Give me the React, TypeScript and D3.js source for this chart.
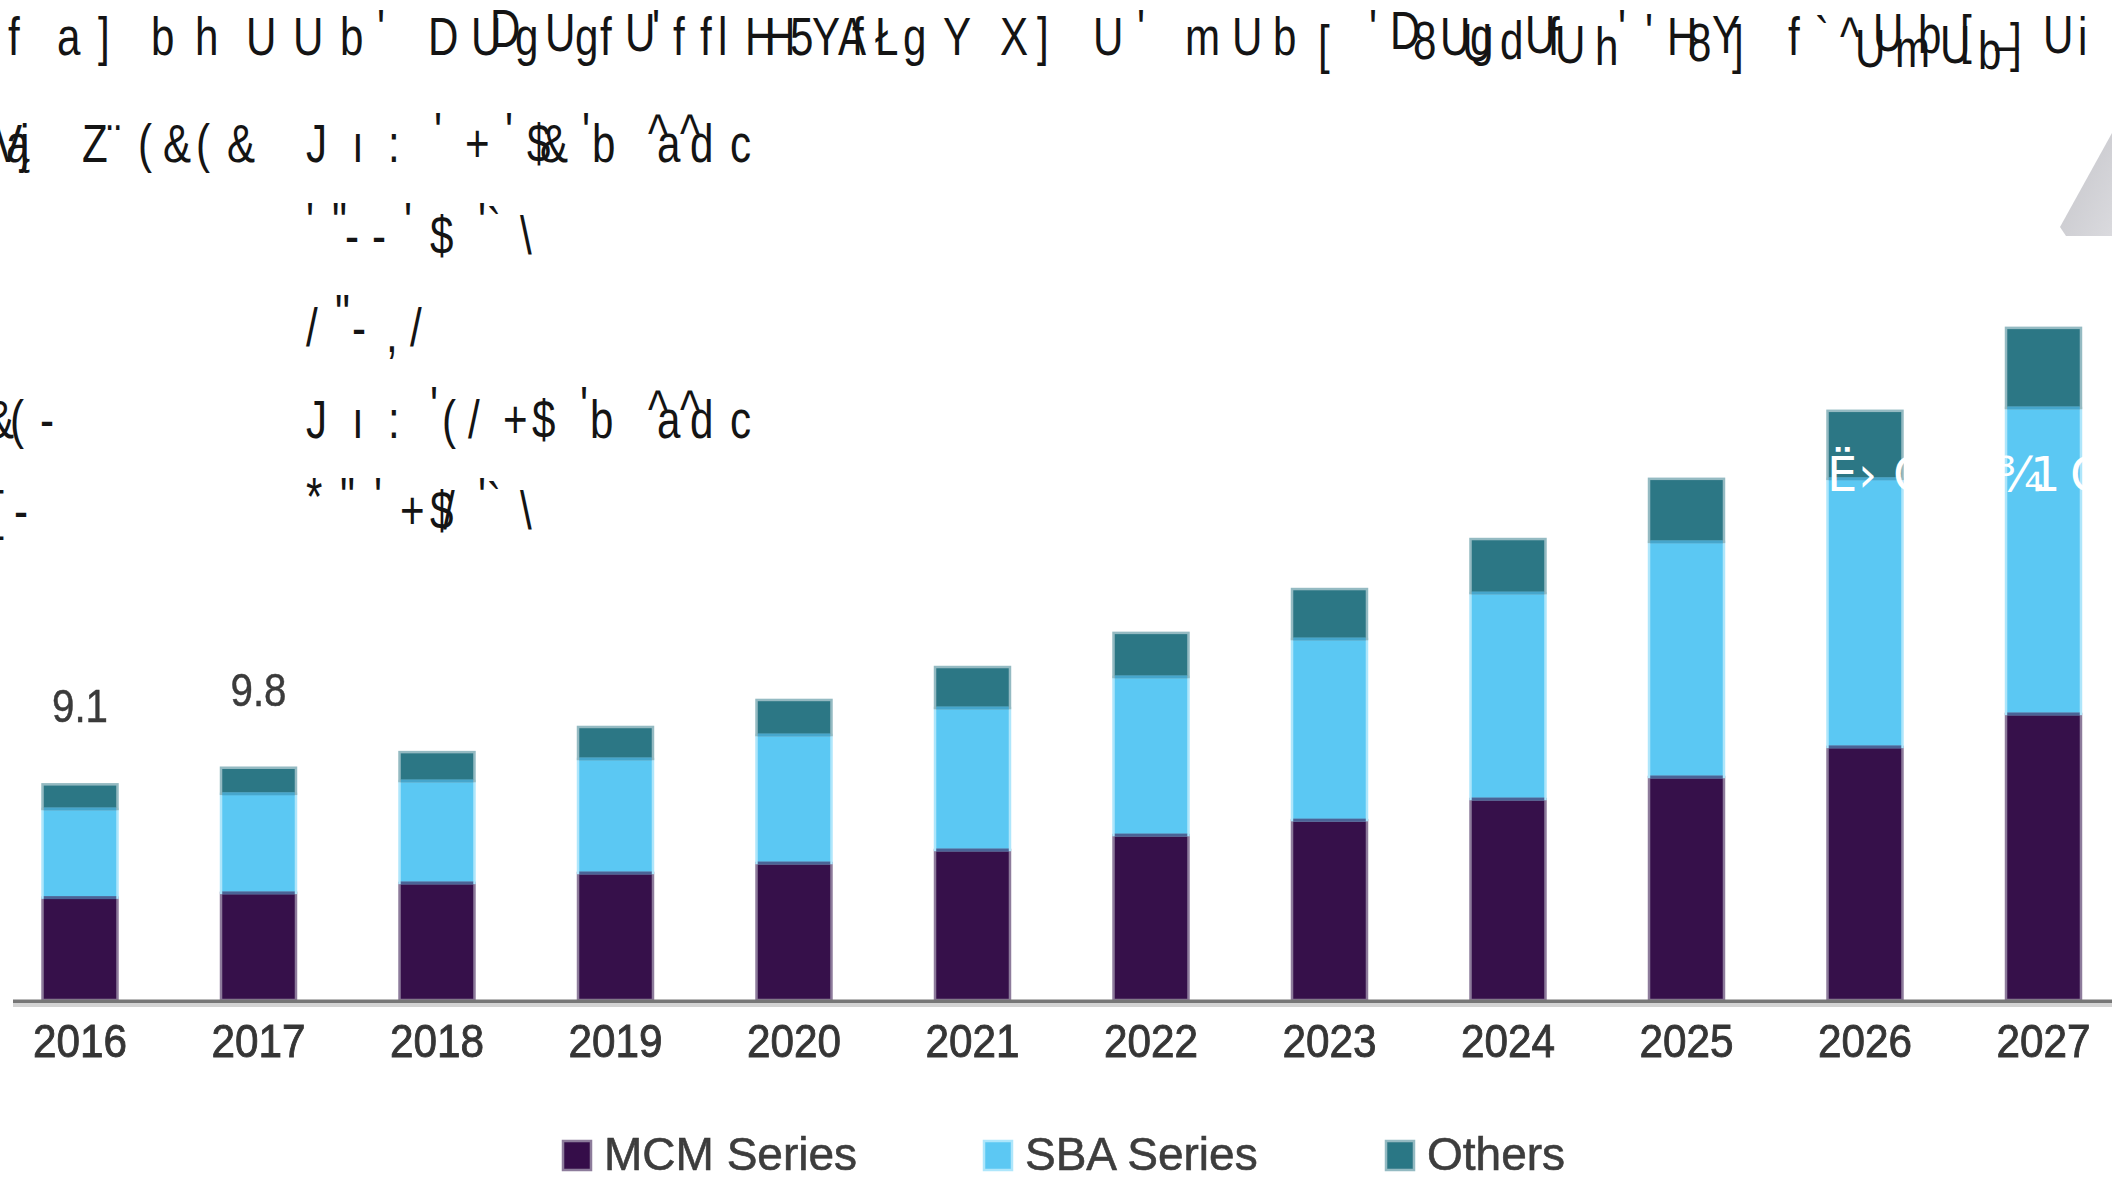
import React, { useEffect } from 'react';
import * as d3 from 'd3';

// ---- data ----
const years = ['2016', '2017', '2018', '2019', '2020', '2021', '2022', '2023', '2024', '2025', '2026', '2027'];
const mcmSeries = [4.32, 4.52, 4.94, 5.36, 5.78, 6.33, 6.96, 7.59, 8.48, 9.41, 10.68, 12.07];
const sbaSeries = [3.74, 4.18, 4.3, 4.81, 5.4, 5.99, 6.67, 7.64, 8.69, 9.92, 11.31, 12.91];
const othersSeries = [1.04, 1.1, 1.22, 1.35, 1.48, 1.73, 1.86, 2.11, 2.28, 2.66, 2.87, 3.38];
const seriesKeys = ['MCM Series', 'SBA Series', 'Others'];
const labelledYears = ['2016', '2017'];

// ---- styling ----
const W = 2112;
const H = 1188;
const fills = ['#36104a', '#5bc8f3', '#2c7785'];
const halos = ['#8d7b9b', '#aee6fb', '#94bac2'];
const seams = ['#36104a', '#4a6396', '#46a6cc'];

// header glyph runs: [glyph, x, dy]
type G = [string, number, number];
const headerLine: G[] = [
  ['f', 8, 0], ['a', 57, 0], [']', 98, 0], ['b', 151, 0], ['h', 195, 0], ['U', 246, 0], ['U', 293, 0],
  ['b', 340, 0], ["'", 377, -8], ['D', 428, 0], ['U', 471, 0], ['D', 490, -8], ['g', 515, 0],
  ['U', 545, -4], ['g', 575, 0], ['f', 600, 0], ['U', 625, -4], ["'", 652, -8], ['f', 673, 0],
  ['f', 700, 0], ['l', 718, 0], ['H', 745, 0], ['H', 765, 0], ['5', 790, 0], ['Y', 812, 0],
  ['A', 838, 0], ['f', 852, 0], ['Ł', 875, 0], ['g', 903, 0], ['Y', 943, 0], ['X', 1000, 0],
  [']', 1037, 0], ['U', 1093, 0], ["'", 1137, -8], ['m', 1185, 0], ['U', 1232, 0], ['b', 1273, 0],
  ['[', 1318, 8], ["'", 1369, -8], ['D', 1390, -6], ['8', 1413, 4], ['U', 1440, 0], ['U', 1462, 6],
  ['g', 1470, 0], ['d', 1500, 4], ['U', 1525, -2], ['f', 1548, 0], ['U', 1555, 8], ['h', 1595, 10],
  ["'", 1618, -8], ["'", 1645, -4], ['H', 1667, 0], ['8', 1688, 6], ['Y', 1712, -2], [']', 1732, 8],
  ['f', 1788, 0], ['`', 1815, 0], ['^', 1840, 0], ['U', 1855, 12], ['U', 1873, -4], ['m', 1895, 12],
  ['b', 1918, -2], ['U', 1940, 8], ['[', 1960, -2], ['b', 1978, 14], ['–', 1995, 8], [']', 2010, 6],
  ['U', 2043, -2], ['i', 2078, 0],
];

const infoRows: { y: number; glyphs: G[] }[] = [
  {
    y: 162,
    glyphs: [
      ['V', -6, 0], ['ą', 6, 0], ['j', 20, 0], ['Z', 82, 0], ['¨', 107, 0], ['(', 138, 0], ['&', 163, 0],
      ['(', 196, 0], ['&', 227, 0],
      ['J', 306, 0], ['ı', 352, 0], [':', 388, 0], ["'", 434, -12], ['+', 465, 0], ["'", 505, -12],
      ['$', 527, 0], ['&', 540, 0], ["'", 582, -12], ['b', 592, 0], ['^', 648, -10], ['a', 657, 0],
      ['^', 680, -10], ['d', 690, 0], ['c', 730, 0],
    ],
  },
  {
    y: 254,
    glyphs: [
      ["'", 306, -14], ['"', 332, -14], ['-', 345, 0], ['-', 372, 0], ["'", 404, -14], ['$', 430, 0],
      ["'", 478, -14], ['`', 487, -8], ['\\', 520, 0],
    ],
  },
  {
    y: 346,
    glyphs: [['/', 306, 0], ['"', 335, -14], ['-', 352, 0], [',', 386, 6], ['/', 410, 0]],
  },
  {
    y: 438,
    glyphs: [
      ['&', -14, 0], ['(', 10, 0], ['-', 40, 0],
      ['J', 306, 0], ['ı', 352, 0], [':', 388, 0], ["'", 430, -14], ['(', 442, 0], ['/', 468, 0],
      ['+', 503, 0], ['$', 532, 0], ["'", 580, -14], ['b', 590, 0], ['^', 648, -10], ['a', 657, 0],
      ['^', 680, -10], ['d', 690, 0], ['c', 730, 0],
    ],
  },
  {
    y: 529,
    glyphs: [
      ['[', -8, 0], ['-', 14, 0],
      ['*', 306, -14], ['"', 340, -14], ["'", 374, -14], ['+', 400, 0], ['$', 430, 0], ['/', 443, 0],
      ["'", 478, -14], ['`', 487, -8], ['\\', 520, 0],
    ],
  },
];

const overlayGlyphs: G[] = [['Ë', 1827, 0], ['›', 1858, 0], ['C', 1893, 0], ['¾', 1997, 0], ['1', 2030, 0], ['C', 2070, 0]];

const Glyphs = ({ glyphs, y, size, fill, sx, family }: { glyphs: G[]; y: number; size: number; fill: string; sx: number; family: string }) => (
  <g fill={fill} fontFamily={family} fontSize={size}>
    {glyphs.map(([ch, gx, dy], i) => (
      <text key={i} transform={`translate(${gx},${y + dy}) scale(${sx},1)`}>
        {ch}
      </text>
    ))}
  </g>
);

export default function App() {
  useEffect(() => {
    document.body.style.margin = '0';
    document.body.style.overflow = 'hidden';
  }, []);

  const rows = years.map((yr, i) => ({
    year: yr,
    'MCM Series': mcmSeries[i],
    'SBA Series': sbaSeries[i],
    Others: othersSeries[i],
  }));
  const stacked = d3.stack<any>().keys(seriesKeys)(rows);

  const x = d3.scaleBand<string>().domain(years).range([-9.25, 2132.75]).paddingInner(0.58).paddingOuter(0.29);
  const y = d3.scaleLinear().domain([0, 30]).range([1000, 1000 - 30 * 23.7]);
  const bw = x.bandwidth();
  const totals = rows.map((r) => r['MCM Series'] + r['SBA Series'] + r.Others);
  const fmt = d3.format('.1f');

  const legendX = [563, 984, 1386];
  const glyphFont = 'Liberation Sans, Arial, sans-serif';

  return (
    <svg width={W} height={H} style={{ position: 'absolute', left: 0, top: 0, background: '#fff' }}>
      <defs>
        <filter id="soft" x="-5%" y="-20%" width="110%" height="140%">
          <feGaussianBlur stdDeviation="0.7" />
        </filter>
        <linearGradient id="tri" x1="0" y1="0" x2="1" y2="1">
          <stop offset="0" stopColor="#c4c4c9" />
          <stop offset="1" stopColor="#dadade" />
        </linearGradient>
      </defs>
      <rect width={W} height={H} fill="#ffffff" />

      {/* header text */}
      <Glyphs glyphs={headerLine} y={55} size={54} fill="#141414" sx={0.78} family={glyphFont} />
      {infoRows.map((r, i) => (
        <Glyphs key={i} glyphs={r.glyphs} y={r.y} size={54} fill="#141414" sx={0.78} family={glyphFont} />
      ))}

      {/* corner decoration */}
      <polygon points="2060,227 2112,133 2112,236 2066,236" fill="url(#tri)" />

      {/* stacked bars */}
      {stacked.map((layer, li) => (
        <g key={layer.key}>
          {layer.map((d: any) => (
            <rect
              key={d.data.year}
              x={x(d.data.year)}
              y={y(d[1])}
              width={bw}
              height={y(d[0]) - y(d[1])}
              fill={fills[li]}
              stroke={halos[li]}
              strokeWidth={2.5}
            />
          ))}
          {li > 0 &&
            layer.map((d: any) => (
              <rect key={'s' + d.data.year} x={x(d.data.year)! + 1.2} y={y(d[0]) - 1.5} width={bw - 2.4} height={3} fill={seams[li]} />
            ))}
        </g>
      ))}

      {/* overlay glyphs in white */}
      <Glyphs glyphs={overlayGlyphs} y={491} size={48} fill="#ffffff" sx={1} family="DejaVu Sans, sans-serif" />

      {/* baseline */}
      <rect x={13} y={999.5} width={W - 13} height={3.5} fill="#777777" />
      <rect x={13} y={1003} width={W - 13} height={4} fill="#d3d3d3" />

      <g filter="url(#soft)" fontFamily="Liberation Sans, Arial, sans-serif">
        {/* value labels */}
        {labelledYears.map((yr) => {
          const i = years.indexOf(yr);
          return (
            <text
              key={yr}
              x={x(yr)! + bw / 2}
              y={y(totals[i]) - 62}
              textAnchor="middle"
              fontSize={47}
              textLength={56}
              lengthAdjust="spacingAndGlyphs"
              fill="#3a3a3a"
              stroke="#3a3a3a"
              strokeWidth={0.5}
            >
              {fmt(totals[i])}
            </text>
          );
        })}

        {/* category labels */}
        {years.map((yr) => (
          <text
            key={yr}
            x={x(yr)! + bw / 2}
            y={1057}
            textAnchor="middle"
            fontSize={47}
            textLength={94}
            lengthAdjust="spacingAndGlyphs"
            fill="#363636"
            stroke="#363636"
            strokeWidth={0.9}
          >
            {yr}
          </text>
        ))}

        {/* legend */}
        {seriesKeys.map((k, i) => (
          <g key={k}>
            <rect x={legendX[i]} y={1141} width={28} height={29} fill={fills[i]} stroke={halos[i]} strokeWidth={2.5} />
            <text x={legendX[i] + 41} y={1170} fontSize={46} fill="#3c3c3c" stroke="#3c3c3c" strokeWidth={0.6}>
              {k}
            </text>
          </g>
        ))}
      </g>
    </svg>
  );
}
